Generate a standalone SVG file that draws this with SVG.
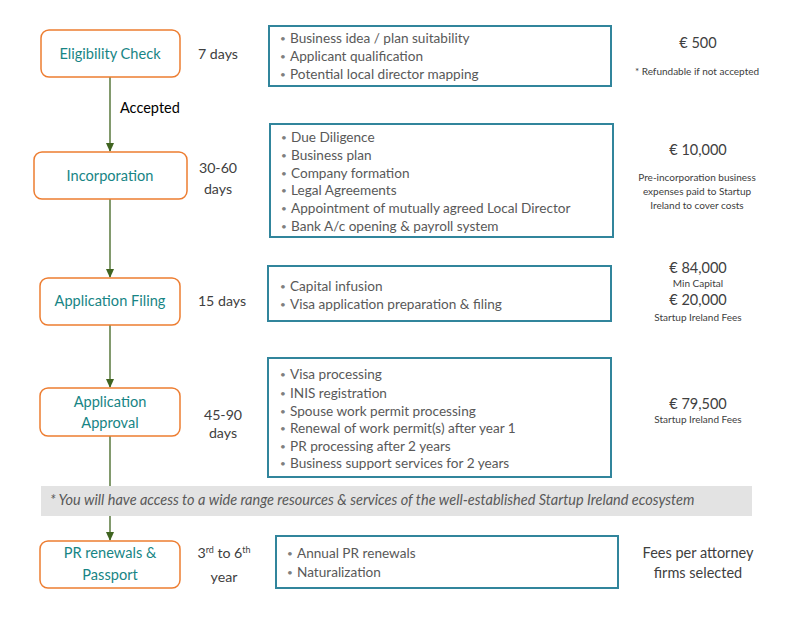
<svg xmlns="http://www.w3.org/2000/svg" width="800" height="634" viewBox="0 0 800 634">
<defs>
<marker id="ah" markerWidth="10" markerHeight="10" refX="8" refY="5" orient="auto" markerUnits="userSpaceOnUse">
<path d="M0,1 L9,5 L0,9 z" fill="#3F6420"/>
</marker>
<style>
text{font-family:Lato,"Open Sans","Liberation Sans",sans-serif;}
.node{fill:#fff;stroke:#ED7D31;stroke-width:1.5;}
.nt{fill:#178585;font-size:14.6px;text-anchor:middle;}
.dur{fill:#404040;font-size:14.2px;text-anchor:middle;}
.box{fill:#fff;stroke:#31859C;stroke-width:2;}
.it{fill:#595959;font-size:13.6px;}
.bul{fill:#7F7F7F;font-size:10px;}
.eur{fill:#404040;font-size:14.5px;text-anchor:middle;}
.note{fill:#404040;font-size:10px;text-anchor:middle;}
.con{stroke:#3F6420;stroke-width:1.3;fill:none;}
</style>
</defs>
<rect width="800" height="634" fill="#fff"/>

<g id="connectors">
<line class="con" x1="110" y1="77" x2="110" y2="151" marker-end="url(#ah)"/>
<line class="con" x1="110" y1="199" x2="110" y2="277" marker-end="url(#ah)"/>
<line class="con" x1="110" y1="325" x2="110" y2="387" marker-end="url(#ah)"/>
<line class="con" x1="110" y1="436" x2="110" y2="540" marker-end="url(#ah)"/>
<text x="120" y="113" font-size="14.5" fill="#000">Accepted</text>
</g>

<g id="band">
<rect x="41" y="486" width="711" height="30" fill="#E3E3E3"/>
<text x="50" y="505" font-size="14.5" font-style="italic" fill="#595959">* You will have access to a wide range resources &amp; services of the well-established Startup Ireland ecosystem</text>
</g>

<g id="n1">
<rect class="node" x="41" y="30" width="139" height="47" rx="8"/>
<text class="nt" x="110" y="59">Eligibility Check</text>
<text class="dur" x="218" y="59">7 days</text>
</g>
<g id="n2">
<rect class="node" x="34" y="152" width="153" height="47" rx="8"/>
<text class="nt" x="110" y="181">Incorporation</text>
<text class="dur" x="218" y="173">30-60</text>
<text class="dur" x="218" y="194">days</text>
</g>
<g id="n3">
<rect class="node" x="40" y="278" width="140" height="47" rx="8"/>
<text class="nt" x="110" y="306">Application Filing</text>
<text class="dur" x="222" y="306">15 days</text>
</g>
<g id="n4">
<rect class="node" x="40" y="388" width="140" height="48" rx="8"/>
<text class="nt" x="110" y="407">Application</text>
<text class="nt" x="110" y="428">Approval</text>
<text class="dur" x="223" y="420">45-90</text>
<text class="dur" x="223" y="438">days</text>
</g>
<g id="n5">
<rect class="node" x="40" y="541" width="140" height="47" rx="8"/>
<text class="nt" x="110" y="558">PR renewals &amp;</text>
<text class="nt" x="110" y="580">Passport</text>
<text class="dur" x="224" y="558">3<tspan font-size="9" dy="-5">rd</tspan><tspan dy="5"> to 6</tspan><tspan font-size="9" dy="-5">th</tspan></text>
<text class="dur" x="224" y="582">year</text>
</g>

<g id="b1">
<rect class="box" x="269" y="26" width="342" height="60"/>
<text class="bul" x="280" y="42">•</text><text class="it" x="290" y="43">Business idea / plan suitability</text>
<text class="bul" x="280" y="60">•</text><text class="it" x="290" y="61">Applicant qualification</text>
<text class="bul" x="280" y="78">•</text><text class="it" x="290" y="79">Potential local director mapping</text>
</g>
<g id="b2">
<rect class="box" x="270" y="124" width="343" height="113"/>
<text class="bul" x="281" y="141">•</text><text class="it" x="291" y="142">Due Diligence</text>
<text class="bul" x="281" y="159">•</text><text class="it" x="291" y="160">Business plan</text>
<text class="bul" x="281" y="177">•</text><text class="it" x="291" y="178">Company formation</text>
<text class="bul" x="281" y="194">•</text><text class="it" x="291" y="195">Legal Agreements</text>
<text class="bul" x="281" y="212">•</text><text class="it" x="291" y="213">Appointment of mutually agreed Local Director</text>
<text class="bul" x="281" y="230">•</text><text class="it" x="291" y="231">Bank A/c opening &amp; payroll system</text>
</g>
<g id="b3">
<rect class="box" x="268" y="266" width="343" height="55"/>
<text class="bul" x="280" y="290">•</text><text class="it" x="290" y="291">Capital infusion</text>
<text class="bul" x="280" y="308">•</text><text class="it" x="290" y="309">Visa application preparation &amp; filing</text>
</g>
<g id="b4">
<rect class="box" x="268" y="358" width="343" height="119"/>
<text class="bul" x="280" y="378">•</text><text class="it" x="290" y="379">Visa processing</text>
<text class="bul" x="280" y="397">•</text><text class="it" x="290" y="398">INIS registration</text>
<text class="bul" x="280" y="415">•</text><text class="it" x="290" y="416">Spouse work permit processing</text>
<text class="bul" x="280" y="432">•</text><text class="it" x="290" y="433">Renewal of work permit(s) after year 1</text>
<text class="bul" x="280" y="450">•</text><text class="it" x="290" y="451">PR processing after 2 years</text>
<text class="bul" x="280" y="467">•</text><text class="it" x="290" y="468">Business support services for 2 years</text>
</g>
<g id="b5">
<rect class="box" x="276" y="536" width="342" height="52"/>
<text class="bul" x="287" y="557">•</text><text class="it" x="297" y="558">Annual PR renewals</text>
<text class="bul" x="287" y="576">•</text><text class="it" x="297" y="577">Naturalization</text>
</g>

<g id="fees">
<text class="eur" x="698" y="48">€ 500</text>
<text class="note" x="697" y="75">* Refundable if not accepted</text>
<text class="eur" x="698" y="155">€ 10,000</text>
<text class="note" x="697" y="181">Pre-incorporation business</text>
<text class="note" x="697" y="195">expenses paid to Startup</text>
<text class="note" x="697" y="209">Ireland to cover costs</text>
<text class="eur" x="698" y="273">€ 84,000</text>
<text class="note" x="698" y="287">Min Capital</text>
<text class="eur" x="698" y="305">€ 20,000</text>
<text class="note" x="698" y="321">Startup Ireland Fees</text>
<text class="eur" x="698" y="409">€ 79,500</text>
<text class="note" x="698" y="423">Startup Ireland Fees</text>
<text class="eur" x="698" y="558" font-size="15">Fees per attorney</text>
<text class="eur" x="698" y="578" font-size="15">firms selected</text>
</g>
</svg>
